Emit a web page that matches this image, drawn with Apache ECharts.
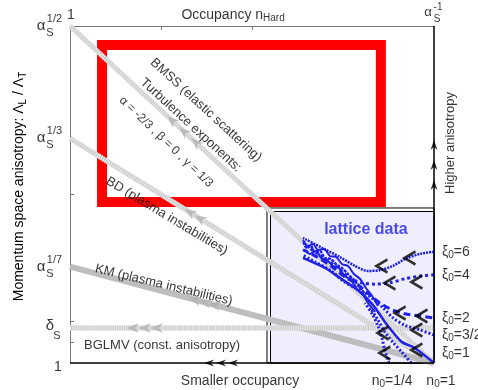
<!DOCTYPE html>
<html>
<head>
<meta charset="utf-8">
<script src="https://cdn.jsdelivr.net/npm/echarts@6/dist/echarts.min.js"></script>
<style>
  html, body { margin: 0; padding: 0; background: #fff; }
  #chart { width: 478px; height: 390px; }
</style>
</head>
<body>
<div id="chart"></div>
<script>
const FONT = '"Liberation Sans", Arial, sans-serif';
const BLUE = "#2020e6";

// x: occupancy exponent (0 = left, 1 = right), y: anisotropy exponent of alpha_s
const xTicks = [0.25, 0.5];
const yTicks = [1 / 32, 1 / 16, 1 / 7, 1 / 4];

// theory trajectories
const bmss = [[0, 0.5], [1, 0]];
const bd = [[0, 1 / 3], [1, 0]];
const km = [[0, 1 / 7], [1, 0]];
const bglmv = [[0, 0.052], [1, 0.052]];

// arrowheads on theory lines
const bmssArrows = [[0.28, 0.36], [0.313, 0.3435], [0.346, 0.327]];
const bdArrows = [[0.33, 0.2233], [0.357, 0.2143]];
const kmArrows = [[0.343, 0.0938], [0.371, 0.0899], [0.398, 0.086]];
const bglmvArrows = [[0.173, 0.052], [0.206, 0.052], [0.239, 0.052]];
const bottomArrows = [[0.382, 0], [0.415, 0], [0.448, 0]];
const rightArrows = [[1, 0.3234], [1, 0.2938], [1, 0.2641]];

// lattice data
const xi6 = [[1.0, 0.165], [0.962, 0.162], [0.92, 0.154], [0.887, 0.144], [0.852, 0.138], [0.819, 0.1365], [0.783, 0.144], [0.742, 0.157], [0.692, 0.171], [0.64, 0.1855]];
const xi4 = [[1.0, 0.131], [0.962, 0.129], [0.92, 0.125], [0.879, 0.119], [0.838, 0.117], [0.802, 0.119], [0.769, 0.126], [0.728, 0.144], [0.681, 0.162], [0.64, 0.177]];
const xi2 = [[0.995, 0.067], [0.962, 0.07], [0.92, 0.073], [0.885, 0.079], [0.852, 0.089], [0.824, 0.101], [0.791, 0.116], [0.755, 0.128], [0.714, 0.145], [0.673, 0.159], [0.64, 0.168]];
const xi32 = [[1.0, 0.0415], [0.962, 0.049], [0.92, 0.056], [0.887, 0.067], [0.86, 0.082], [0.83, 0.096], [0.797, 0.108], [0.755, 0.12], [0.714, 0.138], [0.673, 0.15], [0.64, 0.16]];
const xi1 = [[1, 0], [0.948, 0.022], [0.912, 0.031], [0.893, 0.042], [0.865, 0.061], [0.838, 0.082], [0.819, 0.094], [0.791, 0.108], [0.742, 0.126], [0.701, 0.141], [0.665, 0.15], [0.64, 0.156]];
const quarterA = [[0.876, 0], [0.865, 0.019], [0.857, 0.037], [0.846, 0.055], [0.83, 0.073], [0.81, 0.089]];
const quarterB = [[0.937, 0], [0.912, 0.016], [0.887, 0.031], [0.865, 0.046], [0.846, 0.064], [0.824, 0.082]];
const band1 = [[0.64, 0.1825], [0.654, 0.1736], [0.668, 0.1766], [0.681, 0.1677], [0.698, 0.1691], [0.714, 0.1588], [0.731, 0.1573], [0.747, 0.1469], [0.764, 0.1439], [0.78, 0.132], [0.797, 0.1246], [0.813, 0.1113], [0.83, 0.0994], [0.846, 0.0846]];
const band2 = [[0.646, 0.1677], [0.659, 0.1617], [0.676, 0.1662], [0.69, 0.1558], [0.706, 0.1528], [0.723, 0.1439], [0.739, 0.1409], [0.755, 0.1291], [0.772, 0.1231], [0.788, 0.1098], [0.805, 0.1009], [0.821, 0.0875], [0.838, 0.0757]];
const band3 = [[0.642, 0.1795], [0.65, 0.1706], [0.662, 0.1736], [0.672, 0.1647], [0.686, 0.1662], [0.7, 0.1558], [0.716, 0.1543], [0.733, 0.1454], [0.75, 0.1395], [0.766, 0.1306], [0.78, 0.1231], [0.795, 0.1128], [0.81, 0.1024]];
const chevrons = [[0.934, 0.1558], [0.857, 0.1439], [0.953, 0.1202], [0.879, 0.1187], [0.967, 0.0697], [0.907, 0.0742], [0.953, 0.049], [0.86, 0.0445], [0.953, 0.0193], [0.865, 0.0148]];

const xiNames = ["6", "4", "2", "3/2", "1"];
const xiLevels = [0.1647, 0.1306, 0.0668, 0.0415, 0.0148];

// boxes
const redBox = [[0.088, 0.4718], [0.854, 0.2389]];
const latticeOuter = [[0.5412, 0.23], [1, 0]];
const latticeInner = [[0.5508, 0.2248], [1, 0]];

const rich = {
  m: { fontSize: 14, fontFamily: FONT, color: "#000" },
  sub: { fontSize: 10, fontFamily: FONT, color: "#000", padding: [7, 0, 0, 0] },
};

const chart = echarts.init(document.getElementById("chart"));

const grayLine = (data, hatched) => {
  const out = [
    {
      type: "line", data, symbol: "none", silent: true, z: 2,
      lineStyle: { color: hatched ? "#c9c9c9" : "#bebebe", width: hatched ? 5 : 6, cap: "butt" },
    },
  ];
  if (hatched) {
    out.push({
      type: "line", data, symbol: "none", silent: true, z: 2,
      lineStyle: { color: "#ececec", width: 5, type: [1, 1.3], cap: "butt" },
    });
  }
  return out;
};

const arrowPath = "path://M5,0 L10,10 L5,7 L0,10 Z";
const grayArrows = (data, rot) => ({
  type: "scatter", data, symbol: arrowPath, symbolSize: [10, 12], symbolRotate: rot,
  itemStyle: { color: "#b3b3b3" }, silent: true, z: 3,
});

const blueLine = (data, width, type) => ({
  type: "line", data, symbol: "none", smooth: 0.3, silent: true, z: 4,
  lineStyle: { color: BLUE, width, type },
});

const txt = (pos, formatter, extra) => ({
  value: pos,
  label: Object.assign(
    { show: true, formatter, position: "inside", fontSize: 13, fontFamily: FONT, color: "#000", rich },
    extra
  ),
});

const lineTexts = [
  txt([0.3736, 0.3754], "BMSS (elastic scattering)", { rotate: -42.5 }),
  txt([0.332, 0.353], "Turbulence exponents:", { rotate: -42.5 }),
  txt([0.264, 0.328], "α = -2/3 , β = 0 , γ = 1/3", { rotate: -44, fontSize: 12 }),
  txt([0.266, 0.218], "BD (plasma instabilities)", { rotate: -31 }),
  txt([0.258, 0.1157], "KM (plasma instabilities)", { rotate: -13.5 }),
  txt([0.253, 0.0267], "BGLMV (const. anisotropy)", {}),
];

const frameTexts = [];
[[0.5, "1/2"], [1 / 3, "1/3"], [1 / 7, "1/7"]].forEach(([p, s]) => {
  frameTexts.push(txt([0, p], "α", { fontSize: 15, offset: [-29, 0] }));
  frameTexts.push(txt([0, p], s, { fontSize: 11, offset: [-15.5, -7] }));
  frameTexts.push(txt([0, p], "S", { fontSize: 11, offset: [-20, 7] }));
});
frameTexts.push(txt([0, 0.052], "δ", { fontSize: 15, offset: [-20, -2] }));
frameTexts.push(txt([0, 0.052], "S", { fontSize: 11, offset: [-13, 8] }));
frameTexts.push(txt([0, 0], "1", { fontSize: 14, offset: [-12, 4] }));
frameTexts.push(txt([0, 0.5], "1", { fontSize: 14, offset: [1, -11] }));
frameTexts.push(txt([0.448, 0.5], "{m|Occupancy n}{sub|Hard}", { offset: [0, -11] }));
frameTexts.push(txt([1, 0.5], "α", { fontSize: 13, offset: [-6, -14] }));
frameTexts.push(txt([1, 0.5], "-1", { fontSize: 10, offset: [4, -19] }));
frameTexts.push(txt([1, 0.5], "S", { fontSize: 10, offset: [3, -7] }));
frameTexts.push(txt([0.467, 0], "Smaller occupancy", { fontSize: 14, offset: [0, 18] }));
frameTexts.push(txt([0.885, 0], "{m|n}{sub|0}{m|=1/4}", { offset: [0, 18] }));
frameTexts.push(txt([1, 0], "{m|n}{sub|0}{m|=1}", { offset: [7, 18] }));
frameTexts.push(txt([1, 0.3264], "Higher anisotropy", { rotate: 90, offset: [0, 16] }));
frameTexts.push(txt([0.813, 0.1973], "lattice data", { fontSize: 16, fontWeight: "bold", color: BLUE }));
xiNames.forEach((n, i) => {
  frameTexts.push(txt([1, xiLevels[i]], "{m|ξ}{sub|0}{m|=" + n + "}", { position: "right", distance: 8 }));
});

const option = {
  animation: false,
  grid: { left: 70, right: 44, top: 26, bottom: 27 },
  xAxis: {
    type: "value", min: 0, max: 1, position: "top",
    axisLine: { onZero: false, lineStyle: { color: "#777", width: 1 } },
    axisTick: { inside: true, length: 4, customValues: xTicks, lineStyle: { color: "#777" } },
    axisLabel: { show: false }, splitLine: { show: false },
  },
  yAxis: {
    type: "value", min: 0, max: 0.5,
    axisLine: { show: true, onZero: false, lineStyle: { color: "#777", width: 1 } },
    axisTick: { show: true, inside: true, length: 4, customValues: yTicks, lineStyle: { color: "#777" } },
    axisLabel: { show: false }, splitLine: { show: false },
    name: "{m|Momentum space anisotropy: Λ}{sub|L}{m| / Λ}{sub|T}",
    nameLocation: "middle", nameGap: 42, nameRotate: 90,
    nameTextStyle: { fontSize: 14, fontFamily: FONT, color: "#000", rich, padding: [0, 0, 0, 16] },
  },
  series: [
    {
      type: "line", data: [], silent: true, z: 1,
      markArea: {
        silent: true, label: { show: false },
        data: [
          [{ coord: latticeOuter[0], itemStyle: { color: "#ffffff", borderColor: "#000", borderWidth: 1 } }, { coord: latticeOuter[1] }],
          [{ coord: latticeInner[0], itemStyle: { color: "#eeeeff", borderColor: "#000", borderWidth: 1 } }, { coord: latticeInner[1] }],
        ],
      },
    },
    ...grayLine(bmss, true),
    ...grayLine(bd, true),
    ...grayLine(km, false),
    ...grayLine(bglmv, true),
    grayArrows(bmssArrows, 47),
    grayArrows(bdArrows, 58),
    grayArrows(kmArrows, 75),
    grayArrows(bglmvArrows, 90),
    blueLine(band1, 2, "solid"),
    blueLine(band2, 2, "solid"),
    blueLine(band3, 2.5, [3, 1]),
    blueLine(xi6, 2.5, [2, 1]),
    blueLine(xi4, 3, [3, 3]),
    blueLine(xi2, 3, [7, 4]),
    blueLine(xi32, 3, [2, 2]),
    blueLine(xi1, 2.5, "solid"),
    blueLine(quarterA, 3, [2, 2]),
    blueLine(quarterB, 3, [2, 2]),
    {
      type: "scatter", data: chevrons, symbol: "path://M10,0 L0,6 L10,12", symbolSize: [11, 13],
      itemStyle: { color: "transparent", borderColor: "#000", borderWidth: 2.5 }, silent: true, z: 5,
    },
    {
      type: "line", data: [[0, 0], [1, 0]], symbol: "none", clip: false, silent: true, z: 5,
      lineStyle: { color: "#000", width: 1.5 },
    },
    {
      type: "line", data: [[1, 0], [1, 0.5]], symbol: "none", clip: false, silent: true, z: 5,
      lineStyle: { color: "#000", width: 1.5 },
    },
    {
      type: "scatter", data: bottomArrows, symbol: arrowPath, symbolSize: [7, 10], symbolRotate: 90,
      itemStyle: { color: "#000" }, silent: true, clip: false, z: 5,
    },
    {
      type: "scatter", data: rightArrows, symbol: arrowPath, symbolSize: [7, 10], symbolRotate: 0,
      itemStyle: { color: "#000" }, silent: true, clip: false, z: 5,
    },
    {
      type: "scatter", data: lineTexts, symbolSize: 0, silent: true, clip: false, z: 5,
    },
    {
      type: "line", data: [], silent: true, z: 6,
      markArea: {
        silent: true, label: { show: false },
        data: [[{ coord: redBox[0], itemStyle: { color: "transparent", borderColor: "#ff0000", borderWidth: 10 } }, { coord: redBox[1] }]],
      },
    },
    {
      type: "scatter", data: frameTexts, symbolSize: 0, silent: true, clip: false, z: 7,
    },
  ],
};

chart.setOption(option);
</script>
</body>
</html>
